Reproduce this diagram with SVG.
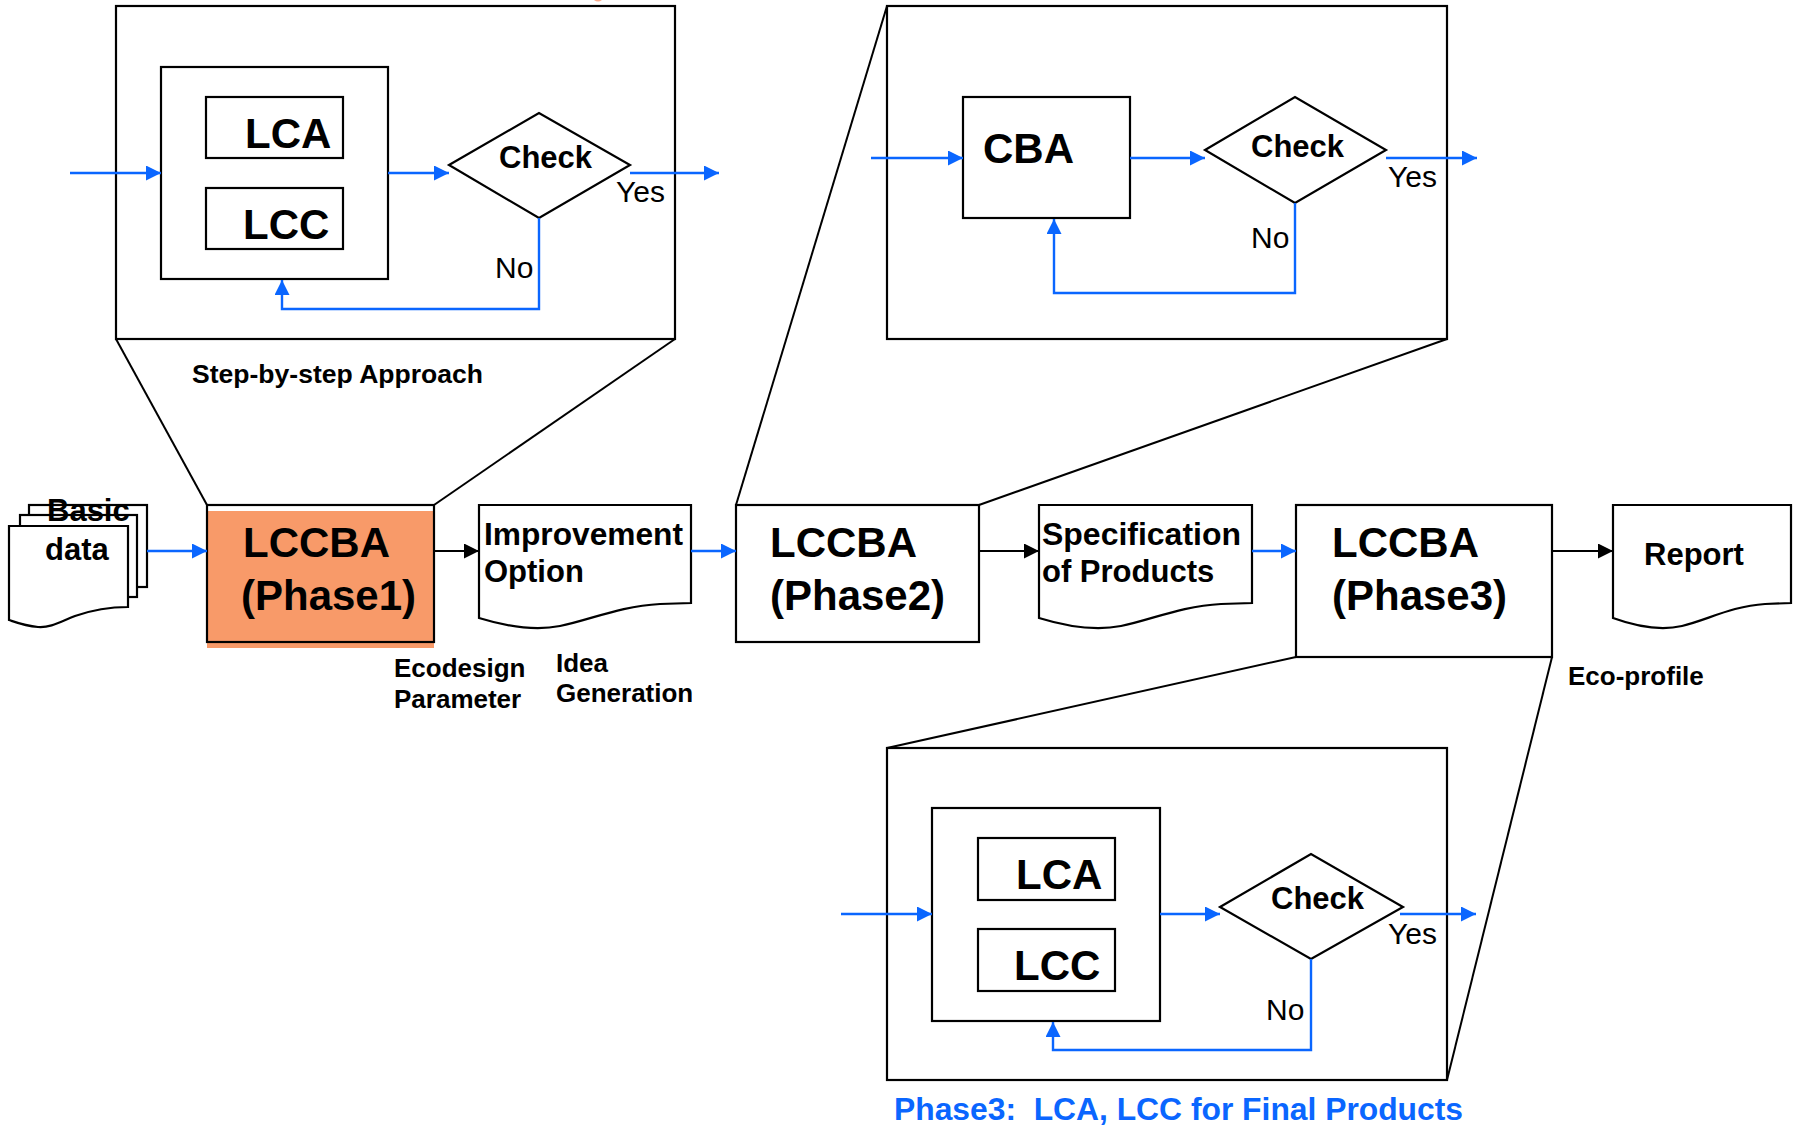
<svg xmlns="http://www.w3.org/2000/svg" width="1795" height="1126" viewBox="0 0 1795 1126">
<style>
.frame{fill:#fff;stroke:#000;stroke-width:2.2}
.box{fill:#fff;stroke:#000;stroke-width:2.2}
.ln{fill:none;stroke:#000;stroke-width:2}
.bl{fill:none;stroke:#0a66ff;stroke-width:2.4}
.bk{fill:none;stroke:#000;stroke-width:2.2}
.big{font-family:"Liberation Sans",Arial,sans-serif;font-weight:bold;font-size:42px;fill:#000}
.chk{font-family:"Liberation Sans",Arial,sans-serif;font-weight:bold;font-size:31px;fill:#000}
.lbl{font-family:"Liberation Sans",Arial,sans-serif;font-weight:bold;font-size:31px;fill:#000}
.yn{font-family:"Liberation Sans",Arial,sans-serif;font-size:30px;fill:#000}
.sm{font-family:"Liberation Sans",Arial,sans-serif;font-weight:bold;font-size:26px;fill:#000}
.ttl{font-family:"Liberation Sans",Arial,sans-serif;font-weight:bold;font-size:31px;fill:#0a66ff}
</style>
<defs>
<marker id="ab" markerUnits="userSpaceOnUse" markerWidth="16" markerHeight="16" refX="15" refY="7.5" orient="auto"><path d="M0,0 L15,7.5 L0,15 z" fill="#0a66ff"/></marker>
<marker id="ak" markerUnits="userSpaceOnUse" markerWidth="16" markerHeight="16" refX="15" refY="7.5" orient="auto"><path d="M0,0 L15,7.5 L0,15 z" fill="#000"/></marker>
</defs>
<rect width="1795" height="1126" fill="#fff"/>
<path d="M594,0 Q598,3 602,0 Z" fill="#f9a98a"/>

<g id="funnels">
<line class="ln" x1="116" y1="339" x2="207" y2="505"/>
<line class="ln" x1="675" y1="339" x2="434" y2="505"/>
<line class="ln" x1="887" y1="6" x2="736" y2="505"/>
<line class="ln" x1="1447" y1="339" x2="979" y2="505"/>
<line class="ln" x1="1296" y1="657" x2="887" y2="748"/>
<line class="ln" x1="1552" y1="657" x2="1447" y2="1080"/>
</g>

<g id="frame1">
<rect class="frame" x="116" y="6" width="559" height="333"/>
<g id="f1-inner"><rect class="box" x="161" y="67" width="227" height="212"/></g>
<g id="f1-lca"><rect class="box" x="206" y="97" width="137" height="61"/><text class="big" x="245" y="148">LCA</text></g>
<g id="f1-lcc"><rect class="box" x="206" y="188" width="137" height="61"/><text class="big" x="243" y="239">LCC</text></g>
<g id="f1-check"><polygon class="box" points="449,165 539,113 630,165 539,218"/><text class="chk" x="499" y="168">Check</text></g>
<text class="yn" x="616" y="202">Yes</text>
<text class="yn" x="495" y="278">No</text>
<text class="sm" x="192" y="383" textLength="291" lengthAdjust="spacingAndGlyphs">Step-by-step Approach</text>
</g>

<g id="frame2">
<rect class="frame" x="887" y="6" width="560" height="333"/>
<g id="f2-cba"><rect class="box" x="963" y="97" width="167" height="121"/><text class="big" x="983" y="163">CBA</text></g>
<g id="f2-check"><polygon class="box" points="1205,150 1295,97 1386,150 1295,203"/><text class="chk" x="1251" y="157">Check</text></g>
<text class="yn" x="1388" y="187">Yes</text>
<text class="yn" x="1251" y="248">No</text>
</g>

<g id="frame3">
<rect class="frame" x="887" y="748" width="560" height="332"/>
<g id="f3-inner"><rect class="box" x="932" y="808" width="228" height="213"/></g>
<g id="f3-lca"><rect class="box" x="978" y="838" width="137" height="62"/><text class="big" x="1016" y="889">LCA</text></g>
<g id="f3-lcc"><rect class="box" x="978" y="929" width="137" height="62"/><text class="big" x="1014" y="980">LCC</text></g>
<g id="f3-check"><polygon class="box" points="1220,907 1311,854 1403,907 1311,959"/><text class="chk" x="1271" y="909">Check</text></g>
<text class="yn" x="1388" y="944">Yes</text>
<text class="yn" x="1266" y="1020">No</text>
<text class="ttl" x="894" y="1120" textLength="569" lengthAdjust="spacingAndGlyphs">Phase3:&#160; LCA, LCC for Final Products</text>
</g>

<g id="basic-data">
<rect class="box" x="29" y="505" width="118" height="82"/>
<rect class="box" x="20" y="515" width="117" height="82"/>
<path class="box" d="M9,526 H128 V607 C110,607 95,609 75,616 C60,622 50,628 38,627 C25,626 15,622 9,620 Z"/>
<text class="lbl" x="47" y="521">Basic</text>
<text class="lbl" x="45" y="560">data</text>
</g>

<g id="phase1">
<rect x="207" y="511" width="227" height="137" fill="#f89a69"/>
<rect x="207" y="505" width="227" height="137" fill="none" stroke="#000" stroke-width="2.2"/>
<text class="big" x="243" y="557">LCCBA</text>
<text class="big" x="241" y="610">(Phase1)</text>
</g>

<g id="improvement">
<path class="box" d="M479,505 H691 V603 L660,604 C620,606 590,620 560,626 C535,631 505,626 479,618 Z"/>
<text class="lbl" x="484" y="545" textLength="199" lengthAdjust="spacingAndGlyphs">Improvement</text>
<text class="lbl" x="484" y="582">Option</text>
</g>
<text class="sm" x="394" y="677">Ecodesign</text>
<text class="sm" x="394" y="708">Parameter</text>
<text class="sm" x="556" y="672">Idea</text>
<text class="sm" x="556" y="702">Generation</text>

<g id="phase2">
<rect class="box" x="736" y="505" width="243" height="137"/>
<text class="big" x="770" y="557">LCCBA</text>
<text class="big" x="770" y="610">(Phase2)</text>
</g>

<g id="specification">
<path class="box" d="M1039,505 H1252 V603 L1221,604 C1181,606 1151,620 1121,626 C1096,631 1065,626 1039,618 Z"/>
<text class="lbl" x="1042" y="545" textLength="199" lengthAdjust="spacingAndGlyphs">Specification</text>
<text class="lbl" x="1042" y="582">of Products</text>
</g>

<g id="phase3">
<rect class="box" x="1296" y="505" width="256" height="152"/>
<text class="big" x="1332" y="557">LCCBA</text>
<text class="big" x="1332" y="610">(Phase3)</text>
</g>

<g id="report">
<path class="box" d="M1613,505 H1791 V603 L1765,604 C1732,606 1707,620 1682,626 C1660,631 1635,626 1613,618 Z"/>
<text class="lbl" x="1644" y="565">Report</text>
</g>
<text class="sm" x="1568" y="685">Eco-profile</text>

<g id="connectors">
<line class="bl" x1="70" y1="173" x2="161" y2="173" marker-end="url(#ab)"/>
<line class="bl" x1="388" y1="173" x2="449" y2="173" marker-end="url(#ab)"/>
<line class="bl" x1="630" y1="173" x2="719" y2="173" marker-end="url(#ab)"/>
<path class="bl" d="M539,218 V309 H282 V280" marker-end="url(#ab)"/>

<line class="bl" x1="871" y1="158" x2="963" y2="158" marker-end="url(#ab)"/>
<line class="bl" x1="1130" y1="158" x2="1205" y2="158" marker-end="url(#ab)"/>
<line class="bl" x1="1386" y1="158" x2="1477" y2="158" marker-end="url(#ab)"/>
<path class="bl" d="M1295,203 V293 H1054 V219" marker-end="url(#ab)"/>

<line class="bl" x1="841" y1="914" x2="932" y2="914" marker-end="url(#ab)"/>
<line class="bl" x1="1160" y1="914" x2="1220" y2="914" marker-end="url(#ab)"/>
<line class="bl" x1="1400" y1="914" x2="1476" y2="914" marker-end="url(#ab)"/>
<path class="bl" d="M1311,959 V1050 H1053 V1022" marker-end="url(#ab)"/>

<line class="bl" x1="147" y1="551" x2="207" y2="551" marker-end="url(#ab)"/>
<line class="bk" x1="434" y1="551" x2="479" y2="551" marker-end="url(#ak)"/>
<line class="bl" x1="691" y1="551" x2="736" y2="551" marker-end="url(#ab)"/>
<line class="bk" x1="979" y1="551" x2="1039" y2="551" marker-end="url(#ak)"/>
<line class="bl" x1="1252" y1="551" x2="1296" y2="551" marker-end="url(#ab)"/>
<line class="bk" x1="1552" y1="551" x2="1613" y2="551" marker-end="url(#ak)"/>
</g>
</svg>
